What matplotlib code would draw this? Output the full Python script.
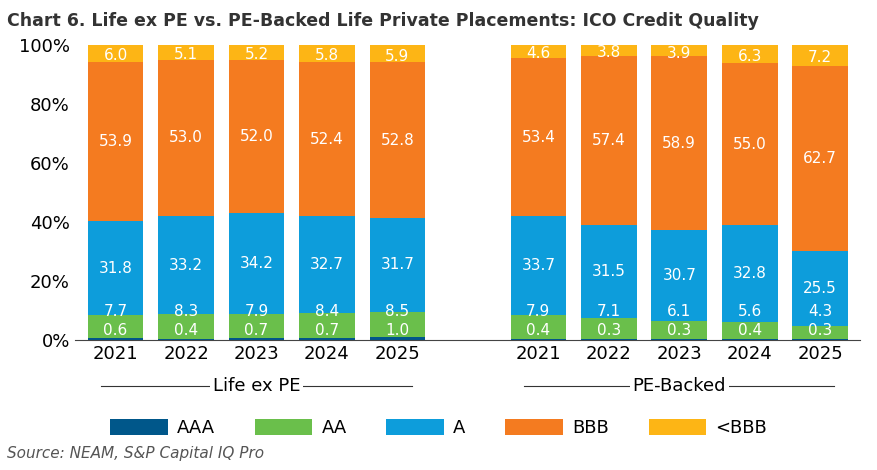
import numpy as np
import matplotlib.pyplot as plt

years = ["2021", "2022", "2023", "2024", "2025"]
groups = ["Life ex PE", "PE-Backed"]
ratings = ["AAA", "AA", "A", "BBB", "<BBB"]
colors = ["#00578a", "#6abf4b", "#0d9ddb", "#f47b20", "#fdb515"]

life_ex_pe = {
    "AAA": [0.6, 0.4, 0.7, 0.7, 1.0],
    "AA": [7.7, 8.3, 7.9, 8.4, 8.5],
    "A": [31.8, 33.2, 34.2, 32.7, 31.7],
    "BBB": [53.9, 53.0, 52.0, 52.4, 52.8],
    "<BBB": [6.0, 5.1, 5.2, 5.8, 5.9],
}
pe_backed = {
    "AAA": [0.4, 0.3, 0.3, 0.4, 0.3],
    "AA": [7.9, 7.1, 6.1, 5.6, 4.3],
    "A": [33.7, 31.5, 30.7, 32.8, 25.5],
    "BBB": [53.4, 57.4, 58.9, 55.0, 62.7],
    "<BBB": [4.6, 3.8, 3.9, 6.3, 7.2],
}

fig = plt.figure(figsize=(8.77, 4.70), dpi=100)
ax = fig.add_axes([0.086, 0.277, 0.895, 0.628])

x_left = np.arange(5)
x_right = np.arange(5) + 6
width = 0.79

for xs, data in [(x_left, life_ex_pe), (x_right, pe_backed)]:
    bottom = np.zeros(5)
    for r, c in zip(ratings, colors):
        vals = np.array(data[r])
        ax.bar(xs, vals, width, bottom=bottom, color=c, label=r if xs[0] == 0 else None)
        for x, b, v in zip(xs, bottom, vals):
            if r == "AAA":
                y = 3.0
            elif r == "AA":
                y = max(b + v / 2, 9.5)
            elif r == "<BBB":
                y = b + v / 2 - 0.8
            else:
                y = b + v / 2
            ax.text(x, y, f"{v:.1f}", ha="center", va="center", color="white", fontsize=11)
        bottom += vals

ax.set_ylim(0, 100)
ax.set_xlim(-0.57, 10.57)
ax.set_yticks(np.arange(0, 101, 20))
ax.set_yticklabels([f"{v}%" for v in range(0, 101, 20)], fontsize=13)
ax.set_xticks(np.concatenate([x_left, x_right]))
ax.set_xticklabels(years * 2, fontsize=13)
ax.tick_params(length=0, pad=4)
for s in ["top", "right", "left"]:
    ax.spines[s].set_visible(False)
ax.spines["bottom"].set_color("#444444")

# group labels with lines
for center, name in [(2, groups[0]), (8, groups[1])]:
    ax.annotate(name, xy=(center, -0.155), xycoords=("data", "axes fraction"),
                ha="center", va="center", fontsize=13,
                bbox=dict(facecolor="white", edgecolor="none", pad=2), zorder=3,
                annotation_clip=False)
    ax.plot([center - 2.2, center + 2.2], [-15.5, -15.5], color="#333333", lw=0.8,
            clip_on=False, zorder=2)

fig.text(0.008, 0.955, "Chart 6. Life ex PE vs. PE-Backed Life Private Placements: ICO Credit Quality",
         fontsize=12.5, fontweight="bold", color="#333333", va="center")
fig.text(0.008, 0.035, "Source: NEAM, S&P Capital IQ Pro", fontsize=11, style="italic",
         color="#555555", va="center")

fig.legend(loc="center", bbox_to_anchor=(0.5, 0.09), ncol=5, frameon=False, fontsize=13,
           handlelength=3.2, handleheight=1.0, columnspacing=2.2, handletextpad=0.5)

fig.savefig("out.png", dpi=100)
